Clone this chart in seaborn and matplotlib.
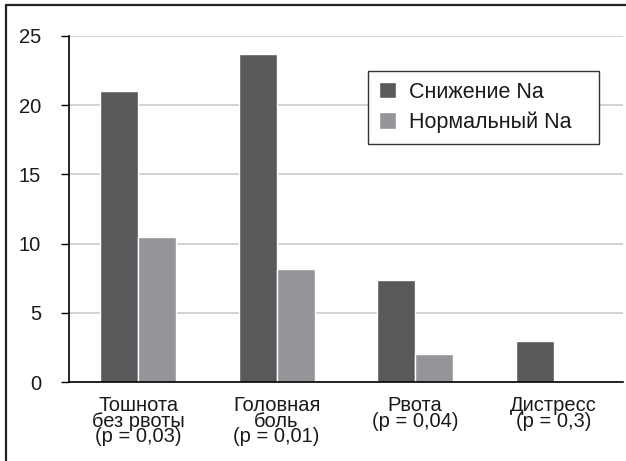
import matplotlib
matplotlib.use("Agg")
import matplotlib.pyplot as plt
import numpy as np
import pandas as pd
import seaborn as sns
from matplotlib.lines import Line2D
from matplotlib.ticker import FixedLocator

categories = [
    "Тошнота\nбез рвоты\n(р = 0,03)",
    "Головная\nболь\n(р = 0,01)",
    "Рвота\n(р = 0,04)",
    "Дистресс\n(р = 0,3)",
]
series_names = ["Снижение Na", "Нормальный Na"]
low_na = [21.0, 23.7, 7.4, 3.0]
normal_na = [10.5, 8.2, 2.0, 0.0]
y_ticks = [0, 5, 10, 15, 20, 25]

colors = {"Снижение Na": "#58595b", "Нормальный Na": "#939598"}


def build_frame():
    rows = []
    for cat, a, b in zip(categories, low_na, normal_na):
        rows.append({"cat": cat, "group": series_names[0], "value": a})
        rows.append({"cat": cat, "group": series_names[1], "value": b})
    return pd.DataFrame(rows)


def main():
    sns.set_style("white")
    plt.rcParams["font.family"] = ["Liberation Sans", "DejaVu Sans"]

    df = build_frame()

    fig = plt.figure(figsize=(6.26, 4.61), dpi=100)
    ax = fig.add_axes([0.110, 0.171, 0.885, 0.751])

    sns.barplot(
        data=df,
        x="cat",
        y="value",
        hue="group",
        hue_order=series_names,
        order=categories,
        palette=colors,
        saturation=1,
        width=0.55,
        gap=0,
        ax=ax,
        zorder=3,
    )

    ax.set_xlim(-0.5, len(categories) - 0.5)
    ax.set_ylim(0, 25)
    ax.set_yticks(y_ticks)
    ax.set_yticklabels([str(t) for t in y_ticks], fontsize=14.5, color="#1a1a1a")
    ax.yaxis.grid(True, color="#cccccc", linewidth=1.2, zorder=0)
    ax.set_axisbelow(True)
    ax.set_xlabel("")
    ax.set_ylabel("")

    # category labels without ticks, ticks on the boundaries
    ax.tick_params(axis="x", which="major", length=0, pad=10, labelsize=14.5, labelcolor="#1a1a1a")
    ax.xaxis.set_minor_locator(FixedLocator(np.arange(-0.5, len(categories), 1.0)))
    ax.tick_params(axis="x", which="minor", length=8, width=1, color="black", direction="out")
    ax.tick_params(axis="y", length=6, width=1, color="black", direction="out", pad=14, left=True)
    for lab in ax.get_xticklabels():
        lab.set_linespacing(0.78)
        lab.set_verticalalignment("top")

    for side in ["top", "right"]:
        ax.spines[side].set_visible(False)
    for side in ["left", "bottom"]:
        ax.spines[side].set_color("black")
        ax.spines[side].set_linewidth(1.2)
        ax.spines[side].set_zorder(4)

    handles, labels = ax.get_legend_handles_labels()
    leg = ax.legend(
        handles,
        labels,
        loc="upper left",
        bbox_to_anchor=(0.54, 0.70, 0.417, 0.199),
        mode="expand",
        fontsize=15.5,
        frameon=True,
        fancybox=False,
        framealpha=1,
        edgecolor="#333333",
        handlelength=0.8,
        handleheight=0.8,
        handletextpad=0.6,
        labelspacing=0.4,
        borderpad=0.5,
        borderaxespad=0,
    )
    leg.get_frame().set_linewidth(1.0)
    for t in leg.get_texts():
        t.set_color("#1a1a1a")

    # outer frame, only left and top edges are visible
    fig.add_artist(Line2D([0.0096, 0.0096], [0.0, 0.989], transform=fig.transFigure,
                          color="#222222", linewidth=1.6))
    fig.add_artist(Line2D([0.0096, 1.0], [0.989, 0.989], transform=fig.transFigure,
                          color="#222222", linewidth=1.6))

    fig.savefig("out.png", dpi=100)
    plt.close(fig)


if __name__ == "__main__":
    main()
